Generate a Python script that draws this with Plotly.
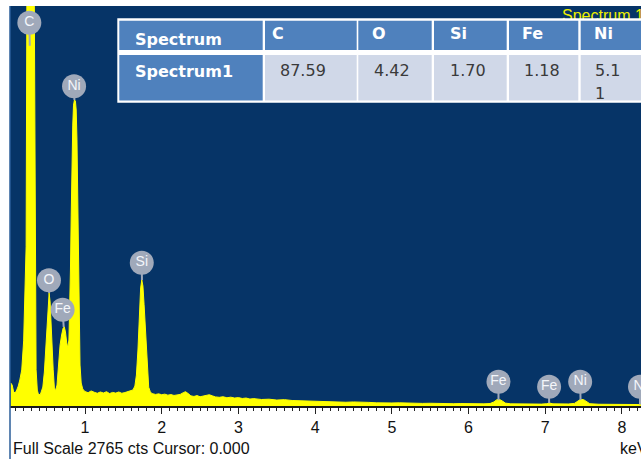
import plotly.graph_objects as go

# ---- EDS spectrum: energy (keV) vs counts ----
energy_kev = [
    0.03, 0.05, 0.07, 0.09, 0.11, 0.13, 0.15, 0.175, 0.20, 0.22, 0.232, 0.243,
    0.26, 0.29, 0.32, 0.337, 0.348, 0.356, 0.362, 0.378, 0.395,
    0.42, 0.45, 0.47, 0.49, 0.505, 0.52, 0.532, 0.545, 0.557, 0.57, 0.585, 0.60, 0.615,
    0.635, 0.655, 0.675, 0.695, 0.715, 0.73, 0.745, 0.76, 0.775, 0.79,
    0.80, 0.81, 0.82, 0.83, 0.84, 0.85, 0.862, 0.875, 0.885, 0.895, 0.905, 0.915,
    0.925, 0.935, 0.95, 0.97, 0.99,
    1.00, 1.04, 1.08, 1.12, 1.16, 1.20, 1.24, 1.28, 1.32, 1.36, 1.40, 1.44, 1.48,
    1.52, 1.56, 1.60,
    1.625, 1.65, 1.67, 1.69, 1.71, 1.725, 1.74, 1.755, 1.77, 1.785, 1.80, 1.815,
    1.83, 1.85, 1.87,
    1.92, 1.96, 2.00, 2.04, 2.08, 2.12, 2.16, 2.20, 2.24, 2.28, 2.31, 2.34, 2.38,
    2.42, 2.46, 2.50, 2.54, 2.58, 2.62, 2.66, 2.70, 2.75, 2.80, 2.85, 2.90, 2.95,
    3.00, 3.05, 3.10, 3.15, 3.20, 3.30, 3.40, 3.50, 3.60, 3.70, 3.80, 3.90, 4.00,
    4.10, 4.20, 4.30, 4.40, 4.50, 4.60, 4.70, 4.80, 4.90, 5.00, 5.10, 5.20, 5.30,
    5.40, 5.50, 5.60, 5.70, 5.80, 5.90, 6.00, 6.10, 6.20, 6.28, 6.33, 6.37, 6.40,
    6.44, 6.48, 6.55, 6.65, 6.75, 6.85, 6.95, 7.02, 7.06, 7.10, 7.20, 7.30, 7.38,
    7.42, 7.46, 7.50, 7.54, 7.58, 7.70, 7.80, 7.90, 8.00, 8.10, 8.20, 8.25,
]
counts = [
    160, 145, 97, 90, 111, 138, 180, 249, 450, 800, 1100, 3000,
    7000, 9000, 7000, 3000, 1100, 600, 250, 110, 76,
    83, 131, 235, 422, 608, 747, 781, 719, 560, 450, 250, 130, 104,
    145, 283, 422, 491, 539, 546, 512, 442, 401, 456,
    664, 940, 1320, 1700, 1942, 2080, 2115, 2108, 2046, 1839, 1424, 940,
    525, 283, 159, 118, 104,
    100, 92, 104, 95, 88, 97, 90, 99, 86, 94, 89, 97, 88,
    93, 100, 108,
    111, 138, 214, 387, 629, 816, 871, 829, 700, 560, 400, 230,
    130, 100, 86,
    80, 84, 78, 82, 75, 79, 73, 77, 80, 92, 99, 88, 70,
    66, 72, 64, 69, 72, 78, 70, 63, 60, 64, 57, 61, 55,
    58, 52, 55, 48, 51, 45, 47, 41, 44, 38, 36, 39, 33,
    31, 29, 30, 26, 28, 24, 25, 22, 24, 21, 22, 19, 21,
    18, 19, 17, 18, 16, 17, 15, 16, 15, 17, 28, 44, 46,
    35, 20, 15, 14, 13, 14, 13, 16, 20, 15, 13, 14, 18,
    33, 46, 44, 30, 16, 12, 12, 11, 11, 10, 11, 10,
]

# ---- peak identification badges ----
peak_labels = ["C", "O", "Fe", "Ni", "Si", "Fe", "Fe", "Ni", "Ni"]
peak_label_kev = [0.274, 0.53, 0.708, 0.857, 1.74, 6.39, 7.05, 7.455, 8.235]
peak_label_cts = [2650, 870, 665, 2210, 990, 168, 133, 168, 133]
peak_top_kev = [0.28, 0.532, 0.722, 0.862, 1.742, 6.39, 7.05, 7.46, 8.235]
peak_top_cts = [2490, 781, 546, 2115, 871, 40, 20, 42, 10]

# ---- quantification table (wt%) ----
table_header = "Spectrum"
table_row_name = "Spectrum1"
table_elements = ["C", "O", "Si", "Fe", "Ni"]
table_wt = [87.59, 4.42, 1.70, 1.18, 5.11]

spectrum_name = "Spectrum 1"
full_scale_cts = 2765
cursor_kev = 0.000
x_tick_values = [1, 2, 3, 4, 5, 6, 7, 8]

# ---- page geometry (pixels) ----
W, H = 641, 459
PL, PR, PT, PB = 10, 641, 6, 406
X_RANGE = [0.022, 8.248]
Y_RANGE = [0, full_scale_cts]

NAVY = "#063467"
YELLOW = "#FFFF00"
BADGE = "#A0A9BA"
HEAD_BLUE = "#4F81BD"
CELL_LIGHT = "#D0D8E8"


def fx(p):
    return (p - PL) / (PR - PL)


def fy(p):
    return (PB - p) / (PB - PT)


def to_kev(p):
    return X_RANGE[0] + fx(p) * (X_RANGE[1] - X_RANGE[0])


def to_cts(p):
    return Y_RANGE[0] + fy(p) * (Y_RANGE[1] - Y_RANGE[0])


fig = go.Figure()

# spectrum fill
fig.add_trace(go.Scatter(
    x=energy_kev, y=counts, mode="lines",
    line=dict(color=YELLOW, width=1), fill="tozeroy", fillcolor=YELLOW,
    hoverinfo="skip", showlegend=False,
))

# badge stems
stem_x, stem_y = [], []
for lk, lc, tk, tc in zip(peak_label_kev, peak_label_cts, peak_top_kev, peak_top_cts):
    stem_x += [lk, tk, None]
    stem_y += [lc, tc, None]
fig.add_trace(go.Scatter(
    x=stem_x, y=stem_y, mode="lines", line=dict(color=BADGE, width=2),
    hoverinfo="skip", showlegend=False,
))

# badges
fig.add_trace(go.Scatter(
    x=peak_label_kev, y=peak_label_cts, mode="markers+text",
    marker=dict(size=24, color=BADGE, line=dict(width=0)),
    text=peak_labels, textposition="middle center",
    textfont=dict(family="Liberation Sans", size=14, color="#F4F6FA"),
    hoverinfo="skip", showlegend=False,
))

# spectrum name (sits behind the table)
fig.add_trace(go.Scatter(
    x=[to_kev(562)], y=[to_cts(17)], mode="text", text=[spectrum_name],
    textposition="middle right",
    textfont=dict(family="Liberation Sans", size=16, color="#EEEE00"),
    cliponaxis=False, hoverinfo="skip", showlegend=False,
))

shapes = []
annotations = []


def rect(x0, x1, y0, y1, color):
    shapes.append(dict(
        type="rect", xref="paper", yref="paper", layer="above",
        x0=fx(x0), x1=fx(x1), y0=fy(y1), y1=fy(y0),
        fillcolor=color, line=dict(width=0),
    ))


def label(text, x, y, color, bold=False, size=16):
    annotations.append(dict(
        xref="paper", yref="paper", x=fx(x), y=fy(y), xanchor="left",
        yanchor="middle", showarrow=False, text=text,
        font=dict(family="DejaVu Sans", size=size, color=color,
                  weight="bold" if bold else "normal"),
    ))


# table
col_px = [(119.3, 262.7), (265, 356.7), (358.3, 431.7), (434, 506.7),
          (509, 578.3), (580.7, 680)]
head_px = (20.7, 50)
row_px = (55, 100.5)
rect(117.3, 690, 18.3, 102.8, "#FFFFFF")
for i, (c0, c1) in enumerate(col_px):
    rect(c0, c1, head_px[0], head_px[1], HEAD_BLUE)
    rect(c0, c1, row_px[0], row_px[1], HEAD_BLUE if i == 0 else CELL_LIGHT)

label(table_header, 132.7, 39.5, "#FFFFFF", bold=True)
label(table_row_name, 132.7, 71.7, "#FFFFFF", bold=True)
head_text_x = [270, 370, 448, 520, 591.7]
val_text_x = [278.3, 371.7, 448.3, 521.7, 593.3]
for el, wt, hx, vx, (c0, c1) in zip(table_elements, table_wt, head_text_x,
                                    val_text_x, col_px[1:]):
    label(el, hx, 33.5, "#FFFFFF", bold=True)
    s = f"{wt:.2f}"
    if c1 > PR:  # last column is cut by the page edge: value wraps
        label(s[:3], vx, 70.5, "#3A3A3A")
        label(s[3:], vx, 93.5, "#3A3A3A")
    else:
        label(s, vx, 70.5, "#3A3A3A")

# left border line running down past the axis
shapes.append(dict(type="line", xref="paper", yref="paper", x0=0, x1=0,
                   y0=fy(H), y1=1, line=dict(color="#2A5C99", width=1.5)))

# footer texts
annotations.append(dict(
    xref="paper", yref="paper", x=fx(11), y=fy(448.5), xanchor="left",
    yanchor="middle", showarrow=False,
    text=f"Full Scale {full_scale_cts} cts Cursor: {cursor_kev:.3f}",
    font=dict(family="Liberation Sans", size=16, color="#111111"),
))
annotations.append(dict(
    xref="paper", yref="paper", x=fx(618), y=fy(448.5), xanchor="left",
    yanchor="middle", showarrow=False, text="keV",
    font=dict(family="Liberation Sans", size=16, color="#111111"),
))

fig.update_layout(
    width=W, height=H, margin=dict(l=PL, r=W - PR, t=PT, b=H - PB, pad=0),
    paper_bgcolor="#FFFFFF", plot_bgcolor=NAVY, showlegend=False,
    shapes=shapes, annotations=annotations,
    xaxis=dict(
        range=X_RANGE, tickmode="array", tickvals=x_tick_values,
        ticktext=[str(v) for v in x_tick_values],
        ticks="outside", ticklen=6, tickwidth=1, tickcolor="#222222",
        tickfont=dict(family="Liberation Sans", size=16, color="#111111"),
        ticklabelstandoff=0,
        showline=True, linecolor="#1A1A1A", linewidth=1.5,
        showgrid=False, zeroline=False,
        minor=dict(dtick=0.1, tick0=0, ticks="outside", ticklen=3,
                   tickcolor="#222222", showgrid=False),
    ),
    yaxis=dict(range=Y_RANGE, visible=False, showgrid=False, zeroline=False),
)

fig.write_html("out.html")
